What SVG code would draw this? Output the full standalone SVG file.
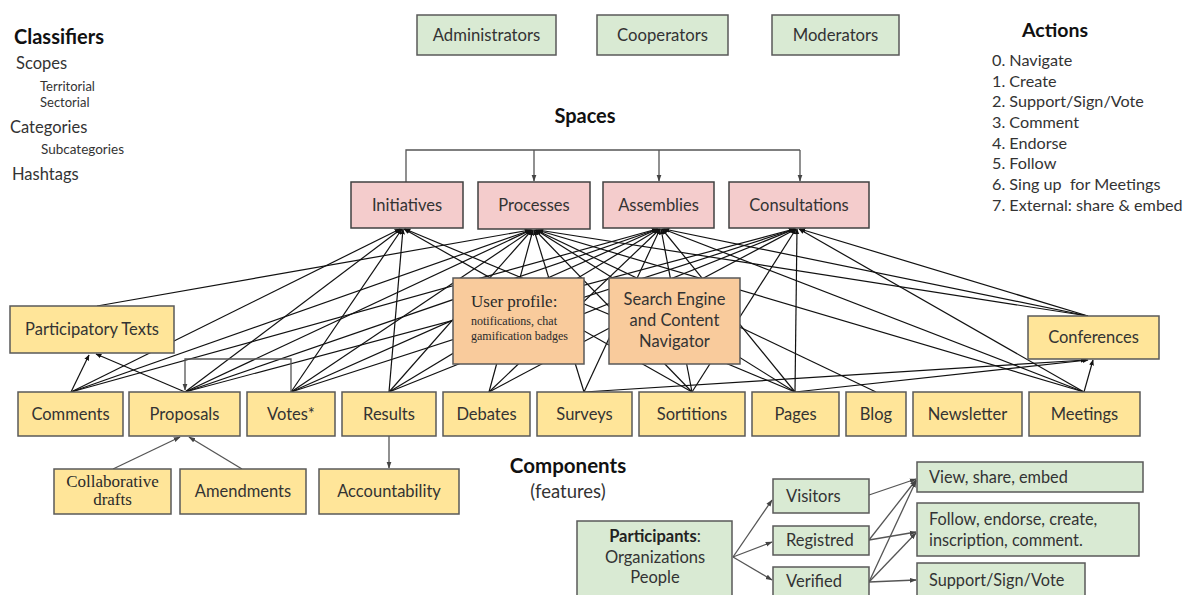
<svg xmlns="http://www.w3.org/2000/svg" width="1184" height="595" viewBox="0 0 1184 595">
  <style>
    .t { font-family: Lato, "Open Sans", "Liberation Sans", sans-serif; fill: #333; }
    .b { font-weight: bold; fill: #111; }
    .s { font-family: "Liberation Serif", "Times New Roman", serif; fill: #2a2a2a; }
    .green { fill: #d9ead3; stroke: #595959; stroke-width: 1.5; }
    .pink { fill: #f4cccc; stroke: #404040; stroke-width: 1.5; }
    .yellow { fill: #ffe599; stroke: #595959; stroke-width: 1.5; }
    .orange { fill: #f9cb9c; stroke: #595959; stroke-width: 1.5; }
    .mesh line { stroke: #111; stroke-width: 1.2; marker-end: url(#ah); }
    .gray { stroke: #555; stroke-width: 1.3; fill: none; }
  </style>
  <defs>
    <marker id="ah" viewBox="0 0 10 10" refX="9" refY="5" markerWidth="6" markerHeight="6" orient="auto" markerUnits="userSpaceOnUse">
      <path d="M0,1 L10,5 L0,9 z" fill="#111"/>
    </marker>
    <marker id="ag" viewBox="0 0 10 10" refX="9" refY="5" markerWidth="7" markerHeight="7" orient="auto" markerUnits="userSpaceOnUse">
      <path d="M0,1.5 L10,5 L0,8.5 z" fill="#444"/>
    </marker>
  </defs>

  <rect width="1184" height="595" fill="#fff"/>

  <!-- connectors -->
  <g id="connectors">
    <!-- space bracket -->
    <path class="gray" d="M406,182 V150 H800"/>
    <line class="gray" x1="534" y1="150" x2="534" y2="181" marker-end="url(#ag)"/>
    <line class="gray" x1="659" y1="150" x2="659" y2="181" marker-end="url(#ag)"/>
    <line class="gray" x1="800" y1="150" x2="800" y2="181" marker-end="url(#ag)"/>

    <g class="mesh">
      <!-- to Initiatives -->
      <line x1="71" y1="392" x2="400" y2="229"/>
      <line x1="185" y1="392" x2="401" y2="229"/>
      <line x1="291" y1="392" x2="402" y2="229"/>
      <line x1="389" y1="392" x2="403" y2="229"/>
      <line x1="692" y1="392" x2="404" y2="229"/>
      <line x1="795" y1="392" x2="405" y2="229"/>
      <!-- to Processes -->
      <line x1="97" y1="306" x2="530" y2="230"/>
      <line x1="71" y1="392" x2="531" y2="230"/>
      <line x1="185" y1="392" x2="531" y2="230"/>
      <line x1="291" y1="392" x2="532" y2="230"/>
      <line x1="389" y1="392" x2="532" y2="230"/>
      <line x1="489" y1="392" x2="533" y2="230"/>
      <line x1="584" y1="392" x2="534" y2="230"/>
      <line x1="692" y1="392" x2="535" y2="230"/>
      <line x1="795" y1="392" x2="536" y2="230"/>
      <line x1="876" y1="392" x2="536" y2="230"/>
      <line x1="1084" y1="392" x2="537" y2="230"/>
      <line x1="1088" y1="316" x2="538" y2="230"/>
      <!-- to Assemblies -->
      <line x1="71" y1="392" x2="657" y2="229"/>
      <line x1="185" y1="392" x2="658" y2="229"/>
      <line x1="291" y1="392" x2="658" y2="229"/>
      <line x1="389" y1="392" x2="659" y2="229"/>
      <line x1="489" y1="392" x2="660" y2="229"/>
      <line x1="584" y1="392" x2="660" y2="229"/>
      <line x1="692" y1="392" x2="661" y2="229"/>
      <line x1="795" y1="392" x2="662" y2="229"/>
      <line x1="1084" y1="392" x2="663" y2="229"/>
      <line x1="1088" y1="316" x2="664" y2="229"/>
      <!-- to Consultations -->
      <line x1="185" y1="392" x2="794" y2="229"/>
      <line x1="291" y1="392" x2="795" y2="229"/>
      <line x1="389" y1="392" x2="795" y2="229"/>
      <line x1="489" y1="392" x2="796" y2="229"/>
      <line x1="692" y1="392" x2="796" y2="229"/>
      <line x1="795" y1="392" x2="797" y2="229"/>
      <line x1="1084" y1="392" x2="799" y2="229"/>
      <line x1="1088" y1="316" x2="800" y2="229"/>
      <!-- to Participatory Texts -->
      <line x1="71" y1="392" x2="89" y2="355"/>
      <line x1="185" y1="392" x2="96" y2="354"/>
      <!-- to Conferences -->
      <line x1="584" y1="392" x2="1086" y2="360"/>
      <line x1="795" y1="392" x2="1088" y2="360"/>
      <line x1="1084" y1="392" x2="1093" y2="360"/>
    </g>

    <!-- Votes to Proposals -->
    <path class="gray" d="M291,392 V359 H185 V390" marker-end="url(#ag)"/>
    <!-- sub-components -->
    <line class="gray" x1="113" y1="469" x2="180" y2="437" marker-end="url(#ag)"/>
    <line class="gray" x1="242" y1="469" x2="189" y2="437" marker-end="url(#ag)"/>
    <line class="gray" x1="389" y1="436" x2="389" y2="468" marker-end="url(#ag)"/>

    <!-- participants -->
    <line class="gray" x1="733" y1="557" x2="772" y2="500" marker-end="url(#ag)"/>
    <line class="gray" x1="733" y1="557" x2="772" y2="542" marker-end="url(#ag)"/>
    <line class="gray" x1="733" y1="557" x2="772" y2="580" marker-end="url(#ag)"/>
    <line class="gray" x1="869" y1="495" x2="916" y2="479" marker-end="url(#ag)"/>
    <line class="gray" x1="869" y1="540" x2="916" y2="480" marker-end="url(#ag)"/>
    <line class="gray" x1="869" y1="540" x2="916" y2="532" marker-end="url(#ag)"/>
    <line class="gray" x1="869" y1="582" x2="916" y2="481" marker-end="url(#ag)"/>
    <line class="gray" x1="869" y1="582" x2="916" y2="533" marker-end="url(#ag)"/>
    <line class="gray" x1="869" y1="582" x2="916" y2="580" marker-end="url(#ag)"/>
  </g>

  <!-- classifiers -->
  <g id="classifiers" class="t">
    <text x="14" y="44" class="t b" font-size="20">Classifiers</text>
    <text x="16" y="69" font-size="16.5">Scopes</text>
    <text x="40" y="91" font-size="13">Territorial</text>
    <text x="40" y="107" font-size="13">Sectorial</text>
    <text x="10" y="133" font-size="16.5">Categories</text>
    <text x="41" y="154" font-size="13.5">Subcategories</text>
    <text x="12" y="180" font-size="16.5">Hashtags</text>
  </g>

  <!-- actions -->
  <g id="actions" class="t" font-size="16.2">
    <text x="1022" y="37" class="t b" font-size="19.5">Actions</text>
    <text x="992" y="66">0. Navigate</text>
    <text x="992" y="86.5">1. Create</text>
    <text x="992" y="107">2. Support/Sign/Vote</text>
    <text x="992" y="128">3. Comment</text>
    <text x="992" y="148.5">4. Endorse</text>
    <text x="992" y="169">5. Follow</text>
    <text x="992" y="190" style="white-space:pre">6. Sing up  for Meetings</text>
    <text x="992" y="210.5">7. External: share &amp; embed</text>
  </g>

  <!-- roles -->
  <g id="administrators"><rect class="green" x="417" y="15" width="139" height="40"/><text class="t" x="486.5" y="41" font-size="16.7" text-anchor="middle">Administrators</text></g>
  <g id="cooperators"><rect class="green" x="597" y="15" width="131" height="40"/><text class="t" x="662.5" y="41" font-size="16.7" text-anchor="middle">Cooperators</text></g>
  <g id="moderators"><rect class="green" x="772" y="15" width="127" height="40"/><text class="t" x="835.5" y="41" font-size="16.7" text-anchor="middle">Moderators</text></g>

  <text id="spaces-title" class="t b" x="585" y="123" font-size="20" text-anchor="middle">Spaces</text>

  <!-- spaces -->
  <g id="initiatives"><rect class="pink" x="351" y="182" width="112" height="46"/><text class="t" x="407" y="211" font-size="16.5" text-anchor="middle">Initiatives</text></g>
  <g id="processes"><rect class="pink" x="478" y="182" width="112" height="47"/><text class="t" x="534" y="211" font-size="16.5" text-anchor="middle">Processes</text></g>
  <g id="assemblies"><rect class="pink" x="603" y="182" width="111" height="46"/><text class="t" x="658.5" y="211" font-size="16.5" text-anchor="middle">Assemblies</text></g>
  <g id="consultations"><rect class="pink" x="729" y="182" width="140" height="46"/><text class="t" x="799" y="211" font-size="16.5" text-anchor="middle">Consultations</text></g>

  <!-- cross-cutting -->
  <g id="participatory-texts"><rect class="yellow" x="10" y="306" width="164" height="47"/><text class="t" x="92" y="335" font-size="16.5" text-anchor="middle">Participatory Texts</text></g>
  <g id="user-profile">
    <rect class="orange" x="453" y="278" width="131" height="86"/>
    <text class="s" x="471" y="307" font-size="17">User profile:</text>
    <text class="s" x="471" y="325" font-size="12">notifications, chat</text>
    <text class="s" x="471" y="340" font-size="12">gamification badges</text>
  </g>
  <g id="search-engine">
    <rect class="orange" x="609" y="278" width="131" height="86"/>
    <text class="t" x="674.5" y="305" font-size="16.5" text-anchor="middle">Search Engine</text>
    <text class="t" x="674.5" y="326" font-size="16.5" text-anchor="middle">and Content</text>
    <text class="t" x="674.5" y="347" font-size="16.5" text-anchor="middle">Navigator</text>
  </g>
  <g id="conferences"><rect class="yellow" x="1028" y="316" width="131" height="43"/><text class="t" x="1093.5" y="343" font-size="16.5" text-anchor="middle">Conferences</text></g>

  <!-- components -->
  <g id="comments"><rect class="yellow" x="18" y="392" width="105" height="44"/><text class="t" x="70.5" y="420" font-size="16.5" text-anchor="middle">Comments</text></g>
  <g id="proposals"><rect class="yellow" x="129" y="392" width="111" height="44"/><text class="t" x="184.5" y="420" font-size="16.5" text-anchor="middle">Proposals</text></g>
  <g id="votes"><rect class="yellow" x="247" y="392" width="88" height="44"/><text class="t" x="291" y="420" font-size="16.5" text-anchor="middle">Votes*</text></g>
  <g id="results"><rect class="yellow" x="342" y="392" width="94" height="44"/><text class="t" x="389" y="420" font-size="16.5" text-anchor="middle">Results</text></g>
  <g id="debates"><rect class="yellow" x="443" y="392" width="87" height="44"/><text class="t" x="486.5" y="420" font-size="16.5" text-anchor="middle">Debates</text></g>
  <g id="surveys"><rect class="yellow" x="537" y="392" width="95" height="44"/><text class="t" x="584.5" y="420" font-size="16.5" text-anchor="middle">Surveys</text></g>
  <g id="sortitions"><rect class="yellow" x="639" y="392" width="106" height="44"/><text class="t" x="692" y="420" font-size="16.5" text-anchor="middle">Sortitions</text></g>
  <g id="pages"><rect class="yellow" x="752" y="392" width="87" height="44"/><text class="t" x="795.5" y="420" font-size="16.5" text-anchor="middle">Pages</text></g>
  <g id="blog"><rect class="yellow" x="846" y="392" width="60" height="44"/><text class="t" x="876" y="420" font-size="16.5" text-anchor="middle">Blog</text></g>
  <g id="newsletter"><rect class="yellow" x="913" y="392" width="109" height="44"/><text class="t" x="967.5" y="420" font-size="16.5" text-anchor="middle">Newsletter</text></g>
  <g id="meetings"><rect class="yellow" x="1029" y="392" width="111" height="44"/><text class="t" x="1084.5" y="420" font-size="16.5" text-anchor="middle">Meetings</text></g>

  <g id="collaborative-drafts">
    <rect class="yellow" x="54" y="469" width="117" height="45"/>
    <text class="s" x="112.5" y="487" font-size="17" text-anchor="middle">Collaborative</text>
    <text class="s" x="112.5" y="505" font-size="17" text-anchor="middle">drafts</text>
  </g>
  <g id="amendments"><rect class="yellow" x="180" y="469" width="126" height="45"/><text class="t" x="243" y="497" font-size="16.5" text-anchor="middle">Amendments</text></g>
  <g id="accountability"><rect class="yellow" x="319" y="469" width="140" height="45"/><text class="t" x="389" y="497" font-size="16.5" text-anchor="middle">Accountability</text></g>

  <g id="components-title">
    <text class="t b" x="568" y="473" font-size="20.5" text-anchor="middle">Components</text>
    <text class="t" x="568" y="498" font-size="18.5" text-anchor="middle">(features)</text>
  </g>

  <!-- participants -->
  <g id="participants">
    <rect class="green" x="577" y="521" width="155" height="80"/>
    <text class="t" x="655" y="542" font-size="16.5" text-anchor="middle"><tspan font-weight="bold" fill="#222">Participants</tspan>:</text>
    <text class="t" x="655" y="563" font-size="16.5" text-anchor="middle">Organizations</text>
    <text class="t" x="655" y="583" font-size="16.5" text-anchor="middle">People</text>
  </g>
  <g id="visitors"><rect class="green" x="773" y="479" width="96" height="34"/><text class="t" x="786" y="502" font-size="16.5">Visitors</text></g>
  <g id="registred"><rect class="green" x="773" y="526" width="96" height="29"/><text class="t" x="786" y="546" font-size="16.5">Registred</text></g>
  <g id="verified"><rect class="green" x="773" y="567" width="96" height="34"/><text class="t" x="786" y="587" font-size="16.5">Verified</text></g>
  <g id="view-share"><rect class="green" x="917" y="462" width="226" height="30"/><text class="t" x="929" y="483" font-size="16.3">View, share, embed</text></g>
  <g id="follow-endorse">
    <rect class="green" x="917" y="503" width="222" height="53"/>
    <text class="t" x="929" y="525" font-size="16.3">Follow, endorse, create,</text>
    <text class="t" x="929" y="546" font-size="16.3">inscription, comment.</text>
  </g>
  <g id="support-sign"><rect class="green" x="917" y="563" width="168" height="38"/><text class="t" x="929" y="586" font-size="16.3">Support/Sign/Vote</text></g>
</svg>
